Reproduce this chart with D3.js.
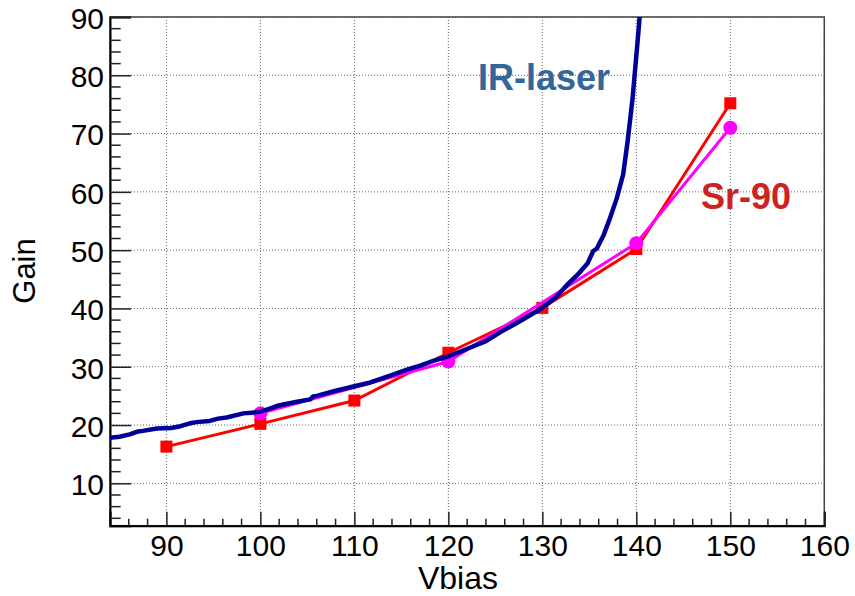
<!DOCTYPE html>
<html><head><meta charset="utf-8">
<script src="https://cdn.jsdelivr.net/npm/d3@7"></script>
<style>body{margin:0;background:#fff}svg{display:block}text{font-family:"Liberation Sans",Arial,sans-serif}</style>
</head><body><svg id="c" width="855" height="596"></svg>
<script>
// IR-laser scan
const irVbias = [84.0,85.0,86.1,87.0,87.5,89.0,90.5,91.5,92.5,93.2,94.6,95.5,96.4,98.2,99.0,100.0,101.0,101.8,103.9,105.3,105.6,106.0,107.8,109.9,111.7,113.5,115.6,117.0,118.4,120.0,121.9,124.0,125.5,127.7,129.9,131.5,132.6,133.7,134.8,135.4,135.8,136.5,137.2,137.9,138.6,139.1,139.6,139.9,140.2,140.35];
const irGain  = [17.8,18.0,18.4,18.9,19.0,19.4,19.5,19.8,20.3,20.5,20.7,21.1,21.3,22.0,22.1,22.3,22.8,23.3,24.0,24.4,24.9,25.0,25.8,26.6,27.3,28.3,29.5,30.2,31.0,31.8,33.0,34.4,35.9,37.9,40.0,42.0,44.0,45.7,47.7,49.8,50.3,52.5,55.5,58.8,63.0,69.0,76.0,81.5,87.0,90.0];
// Sr-90 (red squares)
const srRedVbias = [90,100,110,120,130,140,150];
const srRedGain  = [16.3,20.2,24.2,32.4,40.1,50.2,75.2];
// Sr-90 (magenta circles)
const srMagVbias = [100,120,140,150];
const srMagGain  = [22.0,30.9,51.2,71.0];
const xTicks = [90,100,110,120,130,140,150,160];
const yTicks = [10,20,30,40,50,60,70,80,90];

const svg = d3.select("#c");
const L=110,R=824.3,T=17,B=525.7;
const x = d3.scaleLinear().domain([84,160]).range([L,R]);
const y = d3.scaleLinear().domain([2.73,90]).range([B,T]);

// grid
const g = svg.append("g");
xTicks.forEach(v=>g.append("line").attr("x1",x(v)).attr("x2",x(v)).attr("y1",T).attr("y2",B)
  .attr("stroke","#666").attr("stroke-width",1).attr("stroke-dasharray","1,2"));
yTicks.forEach(v=>g.append("line").attr("x1",L).attr("x2",R).attr("y1",y(v)).attr("y2",y(v))
  .attr("stroke","#666").attr("stroke-width",1).attr("stroke-dasharray","1,2"));

// frame
svg.append("rect").attr("x",L).attr("y",T).attr("width",R-L).attr("height",B-T)
  .attr("fill","none").attr("stroke","#444").attr("stroke-width",1.5);

// axes via d3
const xAxis = d3.axisBottom(x).tickValues(xTicks).tickSize(-14).tickPadding(0).tickFormat(d3.format("d"));
const xa = svg.append("g").attr("transform",`translate(0,${B})`).call(xAxis);
xa.select(".domain").attr("stroke","#000").attr("stroke-width",2);
xa.selectAll(".tick line").attr("stroke","#222").attr("stroke-width",1.5);
xa.selectAll(".tick text").attr("font-size",30).attr("fill","#000").attr("dy","1.02em")
  .style("font-family","'Liberation Sans',Arial,sans-serif");
const xMinor = d3.range(86,160,2).filter(v=>v%10!==0);
svg.append("g").selectAll("line").data(xMinor).join("line")
  .attr("x1",d=>x(d)).attr("x2",d=>x(d)).attr("y1",B).attr("y2",B-7).attr("stroke","#222").attr("stroke-width",1.5);

const yAxis = d3.axisLeft(y).tickValues(yTicks).tickSize(-21).tickPadding(6).tickFormat(d3.format("d"));
const ya = svg.append("g").attr("transform",`translate(${L},0)`).call(yAxis);
ya.select(".domain").attr("stroke","#000").attr("stroke-width",2);
ya.selectAll(".tick line").attr("stroke","#222").attr("stroke-width",1.5);
ya.selectAll(".tick text").attr("font-size",30).attr("fill","#000").attr("x",-6).attr("dy","0.38em")
  .style("font-family","'Liberation Sans',Arial,sans-serif");
const yMinor = d3.range(4,90,2).filter(v=>v%10!==0);
svg.append("g").selectAll("line").data(yMinor).join("line")
  .attr("x1",L).attr("x2",L+10.7).attr("y1",d=>y(d)).attr("y2",d=>y(d)).attr("stroke","#222").attr("stroke-width",1.5);

// clip
svg.append("clipPath").attr("id","clip").append("rect").attr("x",L).attr("y",T).attr("width",R-L).attr("height",B-T);
const plot = svg.append("g").attr("clip-path","url(#clip)");
const line = d3.line().x(d=>x(d[0])).y(d=>y(d[1]));

// red series
const red = srRedVbias.map((v,i)=>[v,srRedGain[i]]);
plot.append("path").datum(red).attr("d",line).attr("fill","none").attr("stroke","#ff0000").attr("stroke-width",3);
plot.selectAll(".sq").data(red).join("rect").attr("x",d=>x(d[0])-6).attr("y",d=>y(d[1])-6)
  .attr("width",12).attr("height",12).attr("fill","#ff0000");

// magenta series
const mag = srMagVbias.map((v,i)=>[v,srMagGain[i]]);
plot.append("path").datum(mag).attr("d",line).attr("fill","none").attr("stroke","#ff00ff").attr("stroke-width",3);
plot.selectAll(".ci").data(mag).join("circle").attr("cx",d=>x(d[0])).attr("cy",d=>y(d[1]))
  .attr("r",7).attr("fill","#ff00ff");

// IR-laser
const ir = irVbias.map((v,i)=>[v,irGain[i]]);
plot.append("path").datum(ir).attr("d",line).attr("fill","none").attr("stroke","#000099")
  .attr("stroke-width",4.5).attr("stroke-linejoin","round");

// labels
svg.append("text").attr("x",478).attr("y",90).attr("font-size",36).attr("font-weight","bold")
  .attr("fill","#336699").text("IR-laser");
svg.append("text").attr("x",701).attr("y",209).attr("font-size",36).attr("font-weight","bold")
  .attr("fill","#cc2222").text("Sr-90");

// axis titles
svg.append("text").attr("x",458).attr("y",589).attr("text-anchor","middle").attr("font-size",32).text("Vbias");
svg.append("text").attr("transform","translate(35,271) rotate(-90)").attr("text-anchor","middle").attr("font-size",31).text("Gain");
</script></body></html>
